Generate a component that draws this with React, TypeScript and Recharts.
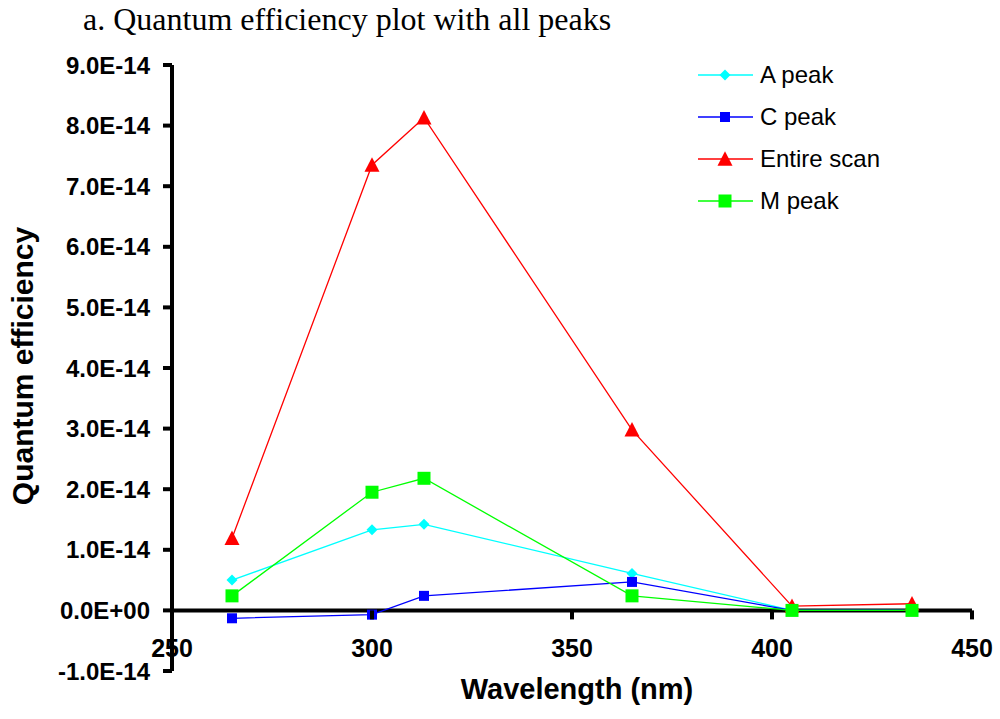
import React from "react";
import { LineChart, Line, XAxis, YAxis, ReferenceLine, Legend } from "recharts";

// ---- data ----
const wavelengths = [265, 300, 313, 365, 405, 435];
const aPeak = [0.5e-14, 1.33e-14, 1.42e-14, 0.61e-14, 0.0, 0.0];
const cPeak = [-0.13e-14, -0.07e-14, 0.24e-14, 0.47e-14, 0.0, 0.0];
const entireScan = [1.19e-14, 7.35e-14, 8.13e-14, 2.98e-14, 0.07e-14, 0.11e-14];
const mPeak = [0.24e-14, 1.95e-14, 2.18e-14, 0.24e-14, 0.0, 0.0];

const xTicks = [250, 300, 350, 400, 450];
const yTicks = [-1e-14, 0, 1e-14, 2e-14, 3e-14, 4e-14, 5e-14, 6e-14, 7e-14, 8e-14, 9e-14];
const seriesNames = ["A peak", "C peak", "Entire scan", "M peak"];

const titleText = "a. Quantum efficiency plot with all peaks";
const xLabelText = "Wavelength (nm)";
const yLabelText = "Quantum efficiency";

// ---- layout ----
const W = 1000;
const H = 719;
const MARGIN = { top: 65, right: 28, bottom: 18, left: 0 };
const X_AXIS_H = 30;
const Y_AXIS_W = 172;
const Y_MIN = -1e-14;
const Y_MAX = 9e-14;
const PLOT_H = H - MARGIN.top - MARGIN.bottom - X_AXIS_H;
const ZERO_Y = MARGIN.top + (PLOT_H * (Y_MAX - 0)) / (Y_MAX - Y_MIN);

const SANS = '"Liberation Sans", Arial, Helvetica, sans-serif';
const SERIF = '"Liberation Serif", "Times New Roman", serif';

const data = wavelengths.map((w, i) => ({
  wl: w,
  a: aPeak[i],
  c: cPeak[i],
  e: entireScan[i],
  m: mPeak[i],
}));

type ShapeKind = "diamond" | "square" | "triangle";
const series: { key: string; name: string; color: string; shape: ShapeKind; size: number }[] = [
  { key: "a", name: seriesNames[0], color: "#00FFFF", shape: "diamond", size: 11 },
  { key: "c", name: seriesNames[1], color: "#0000FF", shape: "square", size: 10 },
  { key: "e", name: seriesNames[2], color: "#FF0000", shape: "triangle", size: 15 },
  { key: "m", name: seriesNames[3], color: "#00FF00", shape: "square", size: 13 },
];

function Marker({ cx, cy, shape, size, color }: { cx: number; cy: number; shape: ShapeKind; size: number; color: string }) {
  const h = size / 2;
  if (shape === "diamond") {
    return <polygon points={`${cx},${cy - h} ${cx + h},${cy} ${cx},${cy + h} ${cx - h},${cy}`} fill={color} />;
  }
  if (shape === "triangle") {
    const th = size * 0.9;
    return (
      <polygon
        points={`${cx},${cy - th / 2 - 1} ${cx + h},${cy + th / 2} ${cx - h},${cy + th / 2}`}
        fill={color}
      />
    );
  }
  return <rect x={cx - h} y={cy - h} width={size} height={size} fill={color} />;
}

const fmtY = (v: number) => {
  if (Math.abs(v) < 1e-20) return "0.0E+00";
  return `${(v * 1e14).toFixed(1)}E-14`;
};

const XTick = (props: any) => {
  const { x, payload } = props;
  return (
    <g>
      <line x1={x} x2={x} y1={ZERO_Y} y2={ZERO_Y + 9} stroke="#000" strokeWidth={4} />
      <text x={x} y={ZERO_Y + 47} textAnchor="middle" fontFamily={SANS} fontWeight="bold" fontSize={25} fill="#000">
        {payload.value}
      </text>
    </g>
  );
};

const LegendContent = () => (
  <svg width={260} height={180}>
    {series.map((s, i) => {
      const y = 25 + i * 42;
      return (
        <g key={s.key}>
          <line x1={8} x2={63} y1={y} y2={y} stroke={s.color} strokeWidth={1.3} />
          <Marker cx={35} cy={y} shape={s.shape} size={s.size} color={s.color} />
          <text x={70} y={y + 8} fontFamily={SANS} fontSize={24} fill="#000">
            {s.name}
          </text>
        </g>
      );
    })}
  </svg>
);

export default function App() {
  return (
    <div style={{ position: "absolute", left: 0, top: 0, width: W, height: H, background: "#fff" }}>
      <LineChart width={W} height={H} data={data} margin={MARGIN}>
        <XAxis
          dataKey="wl"
          type="number"
          domain={[250, 450]}
          ticks={xTicks}
          allowDataOverflow
          axisLine={false}
          tickLine={false}
          height={X_AXIS_H}
          tick={<XTick />}
          interval={0}
        />
        <YAxis
          type="number"
          domain={[Y_MIN, Y_MAX]}
          ticks={yTicks}
          allowDataOverflow
          width={Y_AXIS_W}
          interval={0}
          tickFormatter={fmtY}
          axisLine={{ stroke: "#000", strokeWidth: 4 }}
          tickLine={{ stroke: "#000", strokeWidth: 4 }}
          tickSize={9}
          tickMargin={13}
          tick={{ fontFamily: SANS, fontWeight: "bold", fontSize: 24, fill: "#000" }}
        />
        <ReferenceLine y={0} stroke="#000" strokeWidth={4} />
        {series.map((s) => (
          <Line
            key={s.key}
            dataKey={s.key}
            name={s.name}
            stroke={s.color}
            strokeWidth={1.3}
            isAnimationActive={false}
            dot={(p: any) => (
              <Marker key={`${s.key}-${p.index}`} cx={p.cx} cy={p.cy} shape={s.shape} size={s.size} color={s.color} />
            )}
            activeDot={false}
          />
        ))}
        <Legend
          layout="vertical"
          align="center"
          verticalAlign="middle"
          content={<LegendContent />}
          wrapperStyle={{ left: 690, top: 50, width: 260, height: 180 }}
        />
      </LineChart>
      <svg
        width={W}
        height={H}
        style={{ position: "absolute", left: 0, top: 0, pointerEvents: "none" }}
      >
        <text x={83} y={30} fontFamily={SERIF} fontSize={32} fill="#000">
          {titleText}
        </text>
        <text x={577} y={699} textAnchor="middle" fontFamily={SANS} fontWeight="bold" fontSize={29} fill="#000">
          {xLabelText}
        </text>
        <text
          x={33}
          y={366}
          textAnchor="middle"
          transform="rotate(-90, 33, 366)"
          fontFamily={SANS}
          fontWeight="bold"
          fontSize={30}
          fill="#000"
        >
          {yLabelText}
        </text>
      </svg>
    </div>
  );
}
